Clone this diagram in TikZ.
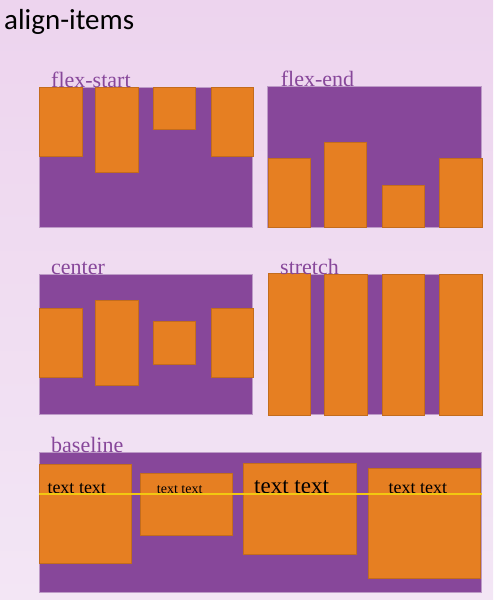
\documentclass[tikz,border=0pt]{standalone}
\usepackage{fontspec}
\setmainfont{Liberation Serif}
\newfontfamily\titlefont{Carlito}
\definecolor{bgtop}{HTML}{EDD4EE}
\definecolor{bgbot}{HTML}{F3E6F5}
\definecolor{boxpurple}{HTML}{87479A}
\definecolor{itemorange}{HTML}{E67F22}
\definecolor{baseyellow}{HTML}{F2C810}
\begin{document}
\begin{tikzpicture}[x=1pt,y=-1pt,
  panel/.style={fill=boxpurple, draw=boxpurple!55!white, line width=0.6pt},
  item/.style={fill=itemorange, draw=itemorange!85!black, line width=0.4pt},
  caption/.style={anchor=base west, inner sep=0pt, text=boxpurple, font=\fontsize{22}{22}\selectfont},
  sample/.style={anchor=base west, inner sep=0pt, text=black}]

\useasboundingbox (0,0) rectangle (493,600);
\shade[top color=bgtop, bottom color=bgbot] (0,0) rectangle (493,600);

\node[anchor=base west, inner sep=0pt, font=\titlefont\fontsize{29}{29}\selectfont] (title) at (4,29.5) {align-items};

% flex-start
\draw[panel] (39.3,87.3) rectangle (252.7,227.7);
\draw[item] (39.3,87.3) rectangle (81.7,156.3);
\draw[item] (95.3,87.3) rectangle (137.7,172.3);
\draw[item] (153,87.3) rectangle (195.3,129.3);
\draw[item] (210.7,87.3) rectangle (252.7,156.3);
\node[caption] (lblstart) at (51,87) {flex-start};

% flex-end
\draw[panel] (267.7,86.7) rectangle (481.7,227.3);
\draw[item] (267.7,158) rectangle (310.3,227.3);
\draw[item] (324,142.3) rectangle (366.3,227.3);
\draw[item] (382,185) rectangle (424,227.3);
\draw[item] (439,158) rectangle (481.7,227.3);
\node[caption] (lblend) at (280.7,86.7) {flex-end};

% center
\draw[panel] (39.3,274.3) rectangle (252.7,414.7);
\draw[item] (39.3,308) rectangle (81.7,377.3);
\draw[item] (95.3,300) rectangle (137.7,385.3);
\draw[item] (153,321.3) rectangle (195.3,363.7);
\draw[item] (210.7,308) rectangle (252.7,377.3);
\node[caption] (lblcenter) at (51,274) {center};

% stretch
\draw[panel] (268.3,274.3) rectangle (482,414.7);
\draw[item] (268.3,273.3) rectangle (310.3,414.7);
\draw[item] (324,274.3) rectangle (366.7,414.7);
\draw[item] (381.7,274.3) rectangle (424,414.7);
\draw[item] (439.3,274.3) rectangle (482,414.7);
\node[caption] (lblstretch) at (280,274) {stretch};

% baseline
\draw[panel] (39.3,452.3) rectangle (481.7,592.7);
\draw[item] (39.3,464.3) rectangle (131,562.7);
\draw[item] (140,473.3) rectangle (231.7,535.3);
\draw[item] (243.3,463) rectangle (356,554);
\draw[item] (367.7,468.3) rectangle (480.3,578);
\node[caption] (lblbase) at (51,452) {baseline};
\node[sample, font=\fontsize{18}{18}\selectfont] (txta) at (47.3,493) {text text};
\node[sample, font=\fontsize{14}{14}\selectfont] (txtb) at (156.7,493) {text text};
\node[sample, font=\fontsize{23}{23}\selectfont] (txtc) at (254,493) {text text};
\node[sample, font=\fontsize{18}{18}\selectfont] (txtd) at (388.3,493) {text text};
\draw[baseyellow, line width=2pt] (39.3,494) -- (481.7,494);
\end{tikzpicture}
\end{document}
